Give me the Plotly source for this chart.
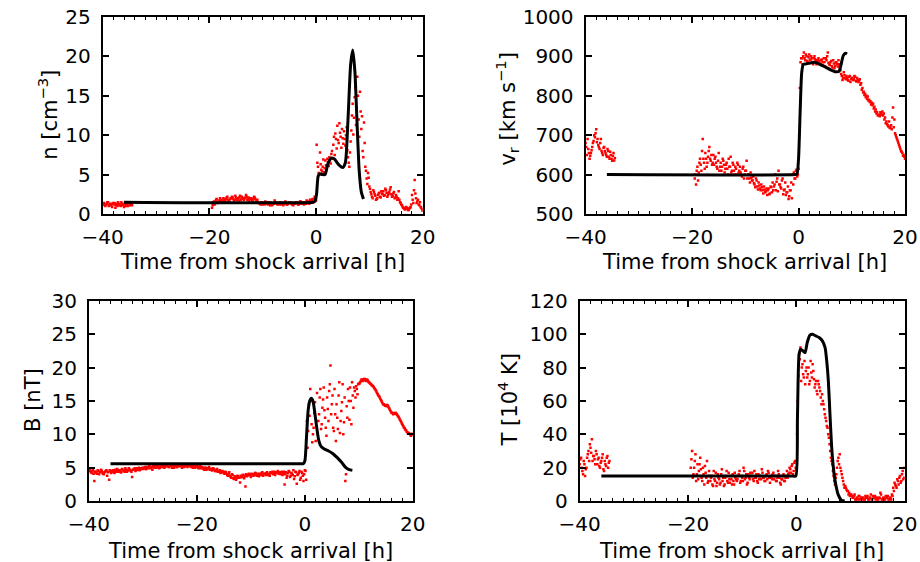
import numpy as np
import plotly.graph_objects as go

STEP = 0.25  # sampling of each observation list [h]

# ---------------- density n [cm^-3] ----------------
n_obs = [
    (-40.0, [1.2, 1.4, 1.0, 1.3, 1.5, 1.1, 1.2, 0.9, 1.3, 1.4, 1.1, 1.0, 1.3, 1.2, 1.5, 1.1,
             0.9, 1.2, 1.3, 1.0, 1.4, 1.2, 1.1]),
    (-39.875, [1.3, 1.1, 1.2, 1.5, 1.0, 1.3, 1.1, 1.4, 1.2, 0.8, 1.3, 1.5, 1.1, 1.0, 1.3, 1.2, 1.4, 1.0,
               1.2, 1.5, 1.1, 1.3]),
    (-19.5, [0.8, 1.5, 1.2, 1.8, 1.4, 1.6, 2.0, 1.5, 1.7, 1.9, 1.6, 2.1, 1.8, 1.7, 2.0,
             2.2, 1.9, 1.8, 2.1, 2.0, 1.7, 2.3, 1.9, 2.0, 1.8, 2.1, 2.2, 1.9, 1.7, 2.0, 1.8, 1.9, 2.1, 1.6, 1.8,
             1.4, 1.3, 1.5, 1.2, 1.4, 1.6, 1.3, 1.2, 1.5, 1.4, 1.1, 1.3, 1.7, 1.4, 1.2, 1.3, 1.5, 1.2, 1.4, 1.3,
             1.6, 1.2, 1.3, 1.5, 1.4, 1.2, 1.1, 1.3, 1.5, 1.4, 1.2, 1.6, 1.3, 1.4, 1.2, 1.5, 1.7, 1.4, 1.3, 1.6,
             1.8, 1.5, 2.2, 1.7,
             6.5, 5.2, 7.8, 5.6, 6.0, 5.3, 6.8, 5.9, 6.6, 7.2, 6.4, 8.0, 8.8, 7.5, 9.5, 11.2, 9.0, 10.3, 8.4, 9.6,
             10.5, 8.7, 11.0, 7.2, 6.0, 9.2, 12.5, 10.1, 14.8, 11.3, 17.4, 12.0, 15.5, 10.8, 8.0, 11.6, 6.0, 4.5,
             5.2, 3.5,
             2.8, 2.2, 3.0, 2.5, 1.8, 2.0, 2.6, 2.2, 2.9, 2.5, 2.3, 3.2, 2.7, 2.4, 2.8, 3.4, 2.2, 2.6, 2.0, 2.4,
             1.8, 2.9, 1.5, 1.2, 0.9, 0.7, 0.6, 0.8, 0.5, 0.7, 0.9, 2.4, 1.4, 4.3, 2.0, 1.6, 1.2, 1.5, 0.8, 0.4]),
    (-19.375, [1.1, 1.6, 1.4, 1.9, 1.5, 1.7, 1.8, 1.6, 2.0, 1.7, 1.9, 2.2, 1.6, 1.9,
               2.0, 2.1, 1.7, 2.3, 1.8, 2.0, 2.1, 1.8, 2.2, 1.9, 2.0, 2.4, 1.8, 2.1, 1.9, 2.0, 1.7, 2.2, 1.9, 1.7,
               1.5, 1.4, 1.2, 1.5, 1.3, 1.2, 1.4, 1.5, 1.3, 1.1, 1.4, 1.2, 1.3, 1.5, 1.3, 1.4, 1.2, 1.5, 1.3, 1.1,
               1.4, 1.3, 1.2, 1.4, 1.5, 1.3, 1.2, 1.4, 1.3, 1.5, 1.2, 1.4, 1.6, 1.3, 1.5, 1.4, 1.3, 1.5, 1.6, 1.8,
               1.5, 1.9, 1.6, 2.0]),
    (0.125, [8.8, 6.0, 5.0, 6.3, 5.4, 6.9, 5.8, 6.2, 7.0, 6.1, 6.8, 7.6, 7.0, 9.8, 10.2, 8.3, 9.4, 11.5, 9.8,
             10.8, 8.9, 9.5, 10.0, 8.1, 6.5, 7.8, 10.6, 14.0, 12.2, 16.0, 13.5, 15.0, 9.8, 13.0, 12.4, 7.2, 9.0,
             5.5, 3.8, 4.6]),
    (10.125, [3.2, 2.5, 2.0, 2.8, 2.3, 1.9, 2.4, 2.7, 2.1, 2.6, 2.9, 2.4, 3.0, 2.2, 2.6, 3.1, 2.5, 2.3, 2.8,
              2.1, 2.2, 2.0, 1.8, 1.4, 1.1, 0.8, 0.6, 0.9, 0.7, 0.5, 0.8, 1.2, 1.8, 3.0, 2.6, 1.4, 1.8, 1.1,
              0.9, 0.6]),
]
n_model_t = [-36.0, -0.6, -0.2, 0.1, 0.4, 0.7, 1.2, 1.7, 2.2, 2.8, 3.4, 4.2, 5.0, 5.5, 6.0, 6.5, 6.9, 7.3, 7.7,
             8.1, 8.5, 8.9]
n_model = [1.5, 1.5, 1.6, 2.5, 4.8, 5.1, 5.0, 5.0, 6.3, 7.1, 7.0, 6.3, 5.9, 6.5, 12.0, 19.0, 20.8, 18.0, 11.5,
           5.5, 2.8, 1.9]

# ---------------- radial speed v_r [km/s] ----------------
v_obs = [
    (-40.0, [680, 650, 665, 640, 655, 670, 685, 695, 715, 690, 670, 680, 660, 650, 670, 655, 645, 660, 640, 650,
             635, 655, 642]),
    (-39.875, [670, 690, 655, 648, 662, 680, 700, 705, 682, 675, 665, 690, 655, 668, 660, 650, 665, 645, 658,
               640, 648, 636]),
    (-19.5, [590, 575, 620, 605, 640, 610, 690, 630, 655, 620, 645, 670, 635, 625, 650,
             640, 630, 615, 655, 620, 610, 640, 625, 615, 630, 600, 620, 645, 610, 625, 600, 615, 630, 605, 620,
             600, 615, 590, 610, 635, 600, 590, 605, 585, 595, 575, 590, 570, 580, 565, 575, 560, 570, 555, 565,
             560, 550, 570, 555, 560, 575, 560, 590, 610, 575, 565, 590, 560, 580, 555, 570, 545, 560, 540, 575,
             590, 610, 595, 615,
             820, 895, 880, 910, 890, 900, 885, 905, 890, 895, 880, 900, 890, 885, 895, 880, 890, 885, 895, 875,
             890, 910, 880, 885, 875, 890, 870, 885, 880, 890, 870, 855, 840, 860, 845, 850, 840, 848, 835, 845,
             840, 850, 838, 845, 835, 842, 832, 820, 810, 805, 800, 798, 790, 786, 782, 780, 772, 765, 758, 752,
             748, 755, 760, 755, 745, 735, 725, 735, 720, 715, 770, 740, 700, 690, 680, 670, 660, 655, 650, 640]),
    (-19.375, [600, 610, 585, 630, 625, 660, 640, 615, 640, 630, 660, 640, 650, 630,
               625, 645, 620, 635, 610, 630, 620, 635, 605, 625, 615, 640, 620, 605, 630, 610, 620, 600, 625, 610,
               605, 595, 620, 600, 610, 590, 600, 580, 592, 585, 578, 568, 585, 562, 572, 560, 568, 552, 562, 558,
               548, 565, 552, 568, 580, 570, 600, 582, 558, 575, 568, 585, 550, 562, 548, 555, 538, 560, 580, 600,
               605, 590, 612, 600,
               700, 885, 895, 900, 895, 905, 888, 898, 892, 900, 886, 895, 893, 880, 890, 888, 882, 892, 878, 886,
               895, 900, 884, 878, 888, 872, 882, 876, 884, 874, 880, 865, 850, 845, 852, 842, 846, 838, 850, 842,
               845, 842, 848, 836, 840, 838, 828, 815, 808, 802, 796, 792, 788, 784, 778, 776, 768, 760, 755, 750,
               752, 758, 752, 750, 740, 730, 728, 722, 718, 725, 745, 720, 705, 695, 685, 675, 665, 658, 648,
               645]),
]
v_model_t = [-36.0, -0.6, -0.3, 0.0, 0.3, 0.6, 0.9, 1.5, 2.2, 3.0, 4.0, 5.0, 6.0, 7.0, 7.6, 8.0, 8.4, 8.8, 9.1]
v_model = [600, 600, 601, 640, 760, 860, 880, 881, 883, 885, 880, 873, 866, 861, 862, 880, 902, 908, 906]

# ---------------- magnetic field B [nT] ----------------
B_obs = [
    (-40.0, [4.8, 4.5, 4.2, 4.6, 3.0, 4.4, 4.1, 4.5, 4.3, 4.7, 4.2, 4.0, 4.4, 4.6, 4.3, 3.2, 4.5, 4.4, 4.6, 4.2,
             4.5, 4.8, 4.4, 4.6, 4.3, 4.7, 4.5, 4.9, 4.4, 4.6, 4.8, 4.5, 3.6, 4.7, 4.9, 4.6, 4.8, 5.0, 4.7, 4.9,
             4.8,
             5.0, 4.8, 5.1, 4.9, 5.2, 5.0, 4.7, 5.1, 5.3, 5.0, 5.2, 4.9, 5.4, 5.1, 5.3, 5.0, 5.2, 5.4, 5.1, 5.3,
             5.5, 5.2, 5.0, 5.3, 5.1, 5.4, 5.2, 5.5, 5.0, 5.3, 5.2, 5.4, 5.1, 5.3, 5.5, 5.2, 5.0, 5.3, 5.1, 5.2,
             5.0, 5.2, 4.9, 5.1, 4.8, 5.0, 4.7, 4.9, 5.1, 4.8, 4.6, 4.9, 4.7, 4.5, 4.8, 4.4, 4.6, 4.3, 4.5, 4.2,
             4.4, 4.1, 3.8, 4.3, 3.6, 4.0, 3.4, 3.7, 3.2, 3.8, 3.5, 2.8, 3.6, 3.9, 3.4, 2.2, 3.7, 3.9, 4.0, 3.6,
             4.0, 3.8, 4.2, 3.9, 4.1, 3.7, 4.0, 4.2, 3.8, 4.1, 3.9, 4.3, 4.0, 3.8, 4.2, 4.4, 4.1, 3.9, 4.3, 4.5,
             4.2, 4.0, 4.4, 4.1, 2.5, 4.3, 3.8, 4.5, 3.6, 4.2, 3.9, 3.3, 4.4, 2.6, 4.0, 4.5, 3.5, 4.2, 3.0, 4.6,
             3.2, 8.0, 14.5, 16.8, 11.5, 10.0, 13.2, 9.0, 16.2, 12.0, 15.5, 10.8, 14.0, 17.0, 12.5, 9.8, 13.8,
             16.5, 20.3, 14.5, 11.0, 16.8, 9.0, 12.5, 15.8, 10.2, 13.5, 17.5, 11.8, 3.0, 14.2, 16.8, 12.2, 15.0,
             17.8, 14.0, 16.5, 17.2, 16.0, 17.6,
             17.8, 18.2, 18.0, 18.3, 18.1, 18.2, 17.9, 17.7, 17.5, 17.3, 17.1, 16.8, 16.4, 16.0, 15.7, 15.3, 14.9,
             14.5, 14.4, 14.3, 14.4, 14.1, 13.7, 13.3, 13.2, 13.1, 13.2, 13.0, 12.7, 12.4, 12.0, 11.6, 11.2, 10.9,
             10.6, 10.3, 10.2, 10.0, 9.9, 10.0]),
    (-39.875, [4.6, 4.3, 4.5, 4.1, 4.4, 4.2, 4.6, 4.0, 4.4, 4.5, 4.1, 4.3, 4.5, 3.8, 4.4, 4.6, 4.2, 4.5, 4.3,
               4.7, 4.4, 4.6, 4.5, 4.3, 4.8, 4.6, 4.4, 4.7, 4.5, 4.9, 4.6, 4.4, 4.7, 4.8, 4.5, 4.9, 4.7, 4.6,
               4.9, 5.0,
               4.9, 5.1, 4.8, 5.0, 5.2, 4.9, 5.1, 5.3, 5.0, 5.2, 5.1, 5.3, 5.0, 5.2, 5.4, 5.1, 5.3, 5.2, 5.5, 5.1,
               5.3, 5.0, 5.4, 5.2, 5.3, 5.1, 5.5, 5.3, 5.2, 5.4, 5.1, 5.3, 5.5, 5.2, 5.4, 5.1, 5.3, 5.2, 5.0, 5.3,
               5.1, 4.9, 5.2, 5.0, 4.9, 4.7, 5.0, 4.8, 4.9, 4.7, 4.8, 4.6, 4.8, 4.5, 4.6, 4.4, 4.5, 4.2, 4.4, 4.3,
               4.1, 4.3, 3.9, 4.0, 3.8, 3.5, 3.9, 3.3, 3.6, 3.4, 3.7, 3.5, 3.8, 3.6, 3.9, 3.7, 4.0, 3.8, 4.1, 3.9,
               4.1, 3.9, 4.0, 4.2, 3.8, 4.0, 4.1, 3.9, 4.3, 4.0, 4.1, 4.2, 3.9, 4.1, 4.3, 4.2, 4.0, 4.4, 4.2, 4.3,
               4.1, 4.3, 4.2, 3.9, 4.4, 4.0, 3.5, 4.2, 4.4, 3.8, 4.1, 4.6, 3.7, 4.3, 3.9, 4.2, 3.2, 4.4, 3.8, 4.0,
               4.5, 12.0, 10.5, 12.8, 15.0, 8.8, 11.0, 14.8, 12.0, 10.2, 13.0, 16.8, 11.5, 15.2, 13.6, 11.0, 15.5,
               12.0, 17.5, 13.0, 15.8, 10.5, 13.0, 14.5, 10.8, 17.8, 12.0, 14.8, 10.0, 15.5, 4.0, 12.5, 15.0, 17.0,
               11.5, 15.8, 17.0, 15.5, 16.8, 17.5,
               17.6, 18.0, 18.2, 18.1, 18.3, 18.0, 18.1, 17.8, 17.6, 17.4, 17.2, 16.9, 16.6, 16.2, 15.8, 15.5, 15.1,
               14.7, 14.5, 14.3, 14.2, 14.3, 13.9, 13.5, 13.2, 13.0, 13.1, 13.2, 12.9, 12.6, 12.2, 11.8, 11.4, 11.0,
               10.7, 10.4, 10.1, 10.1, 9.8, 10.1]),
]
B_model_t = [-36.0, -0.6, -0.3, 0.0, 0.3, 0.6, 0.9, 1.2, 1.5, 1.8, 2.2, 2.6, 3.0, 3.6, 4.4, 5.2, 6.0, 6.8, 7.6,
             8.2, 8.8]
B_model = [5.6, 5.6, 5.6, 6.0, 9.5, 13.5, 15.0, 15.4, 15.0, 13.5, 11.0, 9.0, 8.2, 7.8, 7.5, 7.1, 6.5, 5.8, 5.0,
           4.7, 4.6]

# ---------------- temperature T [10^4 K] ----------------
T_obs = [
    (-40.0, [22, 26, 18, 24, 15, 20, 28, 24, 32, 37, 27, 25, 30, 22, 26, 20, 24, 28, 18, 22, 26, 20, 24]),
    (-39.875, [25, 20, 16, 22, 19, 26, 30, 34, 29, 24, 27, 22, 28, 25, 21, 23, 26, 19, 24, 21, 27, 23]),
    (-19.5, [20, 30, 16, 24, 12, 22, 18, 26, 14, 20, 10, 17, 24, 12, 15,
             14, 10, 18, 12, 9, 16, 13, 11, 19, 14, 10, 15, 12, 17, 11, 13, 16, 10, 14, 12,
             15, 18, 12, 14, 20, 13, 16, 11, 14, 17, 15, 13, 18, 14, 12, 16, 15, 13, 17, 14,
             12, 16, 18, 14, 15, 13, 17, 15, 12, 14, 16, 11, 13, 15, 12, 14, 18, 16, 20, 17,
             22, 18, 24, 19,
             60, 88, 92, 80, 76, 84, 78, 74, 80, 72, 77, 82, 73, 70, 66, 72, 68, 62, 64, 58,
             52, 48, 44, 38, 30, 24, 18, 12, 14, 20, 26, 28, 18, 14, 10, 9, 7, 6, 5, 4,
             3, 2, 4, 1, 2, 3, 1, 2, 2, 1, 3, 2, 1, 2, 4, 1, 2, 3, 2, 1,
             2, 5, 1, 2, 1, 3, 2, 1, 2, 1, 3, 6, 10, 8, 12, 14, 11, 16, 13, 20]),
    (-19.375, [25, 14, 20, 28, 16, 13, 22, 19, 12, 16, 21, 14, 11, 18,
               12, 15, 9, 13, 17, 11, 14, 10, 16, 12, 9, 14, 18, 11, 13, 15, 10, 12, 17, 13,
               13, 16, 11, 15, 12, 18, 14, 10, 16, 13, 15, 17, 12, 14, 16, 11, 13, 15, 19, 14,
               12, 15, 13, 17, 11, 14, 16, 13, 15, 12, 18, 14, 10, 13, 16, 12, 15, 14, 17, 19,
               21, 16, 23, 20,
               40, 75, 85, 72, 82, 74, 70, 80, 76, 70, 84, 74, 78, 68, 72, 64, 70, 66, 58, 60,
               55, 50, 45, 40, 34, 26, 22, 15, 10, 16, 24, 22, 20, 16, 12, 8, 8, 6, 4, 3,
               4, 2, 3, 1, 2, 1, 3, 2, 1, 2, 1, 2, 3, 1, 2, 1, 3, 2, 1, 2,
               1, 2, 4, 1, 2, 1, 2, 3, 1, 2, 4, 8, 11, 9, 13, 10, 15, 12, 18, 14]),
]
T_model_t = [-36.0, -0.6, -0.1, 0.2, 0.5, 0.8, 1.2, 1.6, 2.0, 2.5, 3.0, 3.6, 4.2, 4.8, 5.3, 5.6, 5.9, 6.2, 6.5,
             6.8, 7.1, 7.7, 8.3, 8.9]
T_model = [15, 15, 15, 50, 88, 91, 90, 89, 95, 99.5, 100, 99, 98, 96, 92, 84, 72, 52, 33, 21, 13, 4, 0.6, 0]

# ---------------- axes / labels ----------------
x_ticks = [-40, -20, 0, 20]
n_ticks = [0, 5, 10, 15, 20, 25]
v_ticks = [500, 600, 700, 800, 900, 1000]
B_ticks = [0, 5, 10, 15, 20, 25, 30]
T_ticks = [0, 20, 40, 60, 80, 100, 120]
x_title = "Time from shock arrival [h]"
y_titles = ["n [cm<sup>−3</sup>]", "v<sub>r</sub> [km s<sup>−1</sup>]", "B [nT]", "T [10<sup>4</sup> K]"]


def obs_times(start, vals):
    # observation time stamps: regular sampling from the segment start
    return start + STEP * np.arange(len(vals))


RED = "#ff0000"
FONT = "DejaVu Sans"
fig = go.Figure()

panels = [(n_obs, n_model_t, n_model), (v_obs, v_model_t, v_model),
          (B_obs, B_model_t, B_model), (T_obs, T_model_t, T_model)]

for i, (segs, mt, mv) in enumerate(panels):
    xa = "x" if i == 0 else f"x{i+1}"
    ya = "y" if i == 0 else f"y{i+1}"
    for start, vals in segs:
        fig.add_trace(go.Scatter(x=obs_times(start, vals), y=vals, mode="markers",
                                 marker=dict(color=RED, size=2.5, symbol="square", line=dict(width=0)),
                                 xaxis=xa, yaxis=ya, showlegend=False, hoverinfo="skip"))
    fig.add_trace(go.Scatter(x=mt, y=mv, mode="lines",
                             line=dict(color="black", width=3, shape="spline", smoothing=0.6),
                             xaxis=xa, yaxis=ya, showlegend=False, hoverinfo="skip"))

W, H = 920, 562
# plotly keeps a ~10 px inset around the paper area even with zero margins
INSET = 10.0
PW, PH = W - 2 * INSET, H - 2 * INSET


def fx(px):
    return (px - INSET) / PW


def fy(py):
    return 1 - (py - INSET) / PH


frames = [  # target pixel boxes (left, right, top, bottom)
    (93, 418, 15, 213.5),
    (583.5, 908, 15, 213.5),
    (79, 408, 301, 502.7),
    (577.5, 907.7, 301, 502.7),
]
yranges = [[0, 25], [500, 1000], [0, 30], [0, 120]]
yticks = [n_ticks, v_ticks, B_ticks, T_ticks]

layout = dict(width=W, height=H, margin=dict(l=0, r=0, t=0, b=0),
              paper_bgcolor="white", plot_bgcolor="white",
              font=dict(family=FONT, size=20, color="black"), showlegend=False)

annotations = []
xt_pos = [(255, 262), (745, 262), (243, 553), (742, 553)]
yt_pos = [(38, 114), (504, 108), (22, 401), (505, 401)]
for i, (l, r, t, b) in enumerate(frames):
    xk = "xaxis" if i == 0 else f"xaxis{i+1}"
    yk = "yaxis" if i == 0 else f"yaxis{i+1}"
    ya = "y" if i == 0 else f"y{i+1}"
    xa = "x" if i == 0 else f"x{i+1}"
    layout[xk] = dict(domain=[fx(l), fx(r)], range=[-40, 20], tickvals=x_ticks, anchor=ya,
                      ticks="inside", ticklen=6, tickwidth=1.5, tickcolor="black",
                      minor=dict(ticks="inside", dtick=2, ticklen=3, tickwidth=1.2, tickcolor="black"),
                      showline=True, linecolor="black", linewidth=2, mirror="allticks",
                      showgrid=False, zeroline=False, ticklabelstandoff=4,
                      tickfont=dict(family=FONT, size=20, color="black"))
    layout[yk] = dict(domain=[fy(b), fy(t)], range=yranges[i], tickvals=yticks[i], anchor=xa,
                      ticks="inside", ticklen=6, tickwidth=1.5, tickcolor="black",
                      showline=True, linecolor="black", linewidth=2, mirror="allticks",
                      showgrid=False, zeroline=False, ticklabelstandoff=6,
                      tickfont=dict(family=FONT, size=20, color="black"))
    annotations.append(dict(text=x_title, x=fx(xt_pos[i][0]), y=fy(xt_pos[i][1]), xref="paper",
                            yref="paper", xanchor="center", yanchor="middle", showarrow=False,
                            font=dict(family=FONT, size=21, color="black")))
    annotations.append(dict(text=y_titles[i], x=fx(yt_pos[i][0]), y=fy(yt_pos[i][1]), xref="paper",
                            yref="paper", xanchor="center", yanchor="middle", showarrow=False,
                            textangle=-90, font=dict(family=FONT, size=21, color="black")))
layout["annotations"] = annotations
fig.update_layout(**layout)
fig.write_html("out.html")
